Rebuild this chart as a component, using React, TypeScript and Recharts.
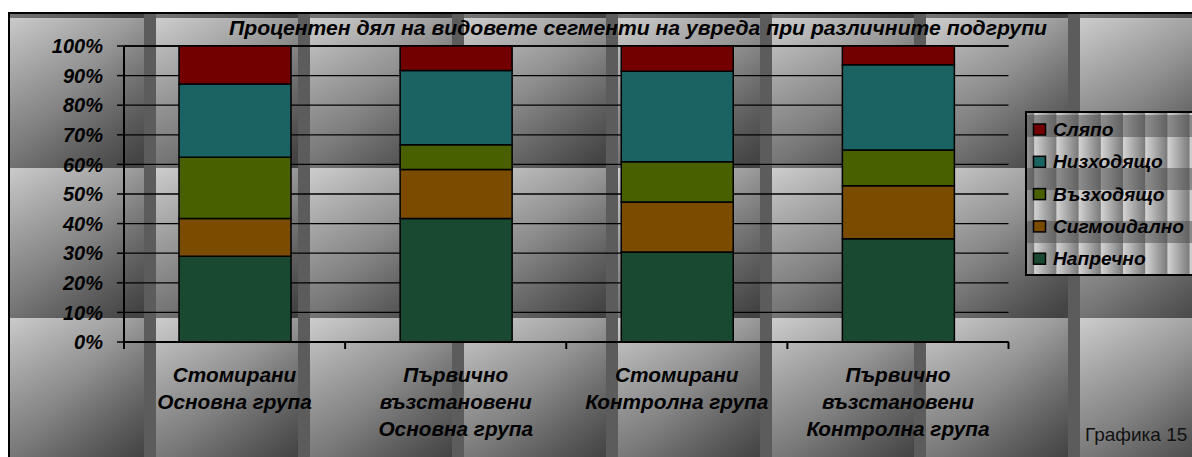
import React from 'react';
import { BarChart, Bar, XAxis, YAxis, CartesianGrid } from 'recharts';

const chartTitle = 'Процентен дял на видовете сегменти на увреда при различните подгрупи';
const figureLabel = 'Графика 15';

const categories = [
  'Стомирани\nОсновна група',
  'Първично\nвъзстановени\nОсновна група',
  'Стомирани\nКонтролна група',
  'Първично\nвъзстановени\nКонтролна група',
];

// segment types, from the bottom of the stack to the top
const seriesNames = ['Напречно', 'Сигмоидално', 'Възходящо', 'Низходящо', 'Сляпо'];

// percent of each segment type per subgroup
const naprechno = [29.0, 41.7, 30.4, 34.9];
const sigmoidalno = [12.7, 16.6, 16.9, 17.9];
const vazhodyashto = [20.7, 8.3, 13.6, 12.1];
const nizhodyashto = [24.8, 25.1, 30.6, 28.8];
const slyapo = [12.8, 8.3, 8.5, 6.3];

const yTicks = [0, 10, 20, 30, 40, 50, 60, 70, 80, 90, 100];

const seriesValues = [naprechno, sigmoidalno, vazhodyashto, nizhodyashto, slyapo];
const seriesColors = ['#194a31', '#7b4b00', '#486000', '#1b6262', '#730000'];

const data = categories.map((name, i) => {
  const row: Record<string, string | number> = { name };
  seriesNames.forEach((s, j) => {
    row[s] = seriesValues[j][i];
  });
  return row;
});

const W = 1192;
const H = 457;
const PLOT_LEFT = 124;
const PLOT_RIGHT = 1008.5;
const PLOT_TOP = 46;
const PLOT_BOTTOM = 342;
const Y_AXIS_W = 60;
const X_AXIS_H = 100;
const BAND = (PLOT_RIGHT - PLOT_LEFT) / categories.length;

const FONT = '"Liberation Sans", Arial, sans-serif';
const labelFont = {
  fontFamily: FONT,
  fontSize: 20,
  fontWeight: 700,
  fontStyle: 'italic' as const,
};

function CategoryTick(props: any) {
  const { x, payload, index } = props;
  const lines = String(payload.value).split('\n');
  const left = x - BAND / 2;
  return (
    <g>
      <line x1={left} x2={left} y1={PLOT_BOTTOM} y2={PLOT_BOTTOM + 7} stroke="#000" strokeWidth={2} />
      {index === categories.length - 1 && (
        <line x1={x + BAND / 2} x2={x + BAND / 2} y1={PLOT_BOTTOM} y2={PLOT_BOTTOM + 7} stroke="#000" strokeWidth={2} />
      )}
      <text textAnchor="middle" fill="#000" {...labelFont} fontSize={20.8}>
        {lines.map((l, i) => (
          <tspan key={i} x={x} y={382 + 27 * i}>
            {l}
          </tspan>
        ))}
      </text>
    </g>
  );
}

function Background() {
  return (
    <svg width={W} height={H} style={{ position: 'absolute', left: 0, top: 0 }}>
      <defs>
        <linearGradient id="tileGrad" x1="0" y1="0" x2="1" y2="0.8">
          <stop offset="0" stopColor="#cdcdcd" />
          <stop offset="0.5" stopColor="#a0a0a0" />
          <stop offset="1" stopColor="#5c5c5c" />
        </linearGradient>
        <linearGradient id="tileShade" x1="0" y1="0" x2="0" y2="1">
          <stop offset="0" stopColor="#000" stopOpacity={0} />
          <stop offset="1" stopColor="#000" stopOpacity={0.28} />
        </linearGradient>
        <pattern id="tile" x={2} y={18} width={154} height={150} patternUnits="userSpaceOnUse">
          <rect width={154} height={150} fill="url(#tileGrad)" />
          <rect width={154} height={150} fill="url(#tileShade)" />
          <rect x={142} width={12} height={150} fill="#5c5c5c" />
        </pattern>
      </defs>
      <rect x={0} y={0} width={W} height={H} fill="#fff" />
      <rect x={9} y={13} width={1400} height={700} fill="url(#tile)" stroke="#000" strokeWidth={2} />
    </svg>
  );
}

function Overlay() {
  const legendItems = seriesNames.map((n, i) => ({ n, c: seriesColors[i] })).reverse();
  return (
    <svg width={W} height={H} style={{ position: 'absolute', left: 0, top: 0, pointerEvents: 'none' }}>
      <defs>
        <linearGradient id="legLight" x1="0" y1="0" x2="1" y2="0">
          <stop offset="0" stopColor="#d4d4d4" />
          <stop offset="1" stopColor="#7a7a7a" />
        </linearGradient>
        <linearGradient id="legDark" x1="0" y1="0" x2="1" y2="0">
          <stop offset="0" stopColor="#8e8e8e" />
          <stop offset="1" stopColor="#626262" />
        </linearGradient>
        <pattern id="legendTex" x={1012} y={137} width={22.2} height={53} patternUnits="userSpaceOnUse">
          <rect width={22.2} height={31} fill="url(#legLight)" />
          <rect y={31} width={22.2} height={22} fill="url(#legDark)" />
        </pattern>
      </defs>
      <text x={638} y={35} textAnchor="middle" fill="#000" {...labelFont} fontSize={21} textLength={818} lengthAdjust="spacingAndGlyphs">
        {chartTitle}
      </text>
      <rect x={1026} y={112} width={300} height={163} fill="url(#legendTex)" stroke="#000" strokeWidth={2} />
      {legendItems.map((it, k) => {
        const base = 136 + 32.3 * k;
        return (
          <g key={it.n}>
            <rect x={1033.5} y={base - 12} width={12} height={11} fill={it.c} stroke="#000" strokeWidth={1.5} />
            <text x={1053} y={base} fill="#000" {...labelFont} fontSize={19.2}>
              {it.n}
            </text>
          </g>
        );
      })}
      <text x={1085} y={441} fill="#111" fontFamily={FONT} fontSize={19}>
        {figureLabel}
      </text>
    </svg>
  );
}

export default function App() {
  return (
    <div style={{ position: 'fixed', left: 0, top: 0, width: W, height: H, overflow: 'hidden', background: '#fff' }}>
      <Background />
      <div style={{ position: 'absolute', left: 0, top: 0 }}>
        <BarChart
          width={W}
          height={H}
          data={data}
          margin={{
            top: PLOT_TOP,
            right: W - PLOT_RIGHT,
            left: PLOT_LEFT - Y_AXIS_W,
            bottom: H - PLOT_BOTTOM - X_AXIS_H,
          }}
          barSize={112}
        >
          <CartesianGrid vertical={false} stroke="#000" strokeWidth={1.3} />
          <XAxis
            dataKey="name"
            height={X_AXIS_H}
            axisLine={{ stroke: '#000', strokeWidth: 2 }}
            tickLine={false}
            tick={<CategoryTick />}
            interval={0}
          />
          <YAxis
            width={Y_AXIS_W}
            type="number"
            domain={[0, 100]}
            ticks={yTicks}
            interval={0}
            tickFormatter={(v: number) => `${v}%`}
            axisLine={{ stroke: '#000', strokeWidth: 2 }}
            tickLine={{ stroke: '#000', strokeWidth: 1.5 }}
            tickSize={7}
            tickMargin={14}
            tick={{ fill: '#000', ...labelFont }}
          />
          {seriesNames.map((s, i) => (
            <Bar
              key={s}
              dataKey={s}
              stackId="a"
              fill={seriesColors[i]}
              stroke="#000"
              strokeWidth={1.5}
              isAnimationActive={false}
            />
          ))}
        </BarChart>
      </div>
      <Overlay />
    </div>
  );
}
